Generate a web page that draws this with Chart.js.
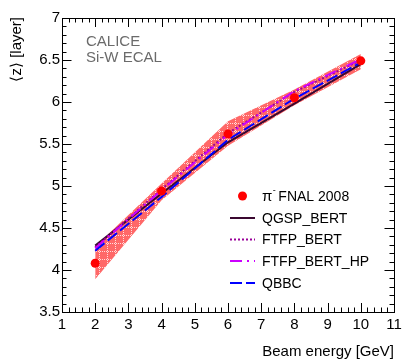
<!DOCTYPE html>
<html>
<head>
<meta charset="utf-8">
<script src="https://cdn.jsdelivr.net/npm/chart.js@4/dist/chart.umd.min.js"></script>
<style>
html,body{margin:0;padding:0;background:#fff;}
#wrap{width:415px;height:363px;position:relative;}
</style>
</head>
<body>
<div id="wrap"><canvas id="c" width="415" height="363"></canvas></div>
<script>
// ---- data ----
const energies = [2, 4, 6, 8, 10];
const dataValues = [4.08, 4.94, 5.62, 6.05, 6.49];
const bandUpper = [4.28, 5.03, 5.77, 6.15, 6.57];
const bandLower = [3.89, 4.83, 5.48, 5.96, 6.39];
const qgspBert = [4.29, 4.91, 5.52, 5.98, 6.45];
const ftfpBert = [4.27, 4.96, 5.63, 6.12, 6.50];
const ftfpBertHP = [4.26, 4.95, 5.61, 6.13, 6.51];
const qbbc = [4.23, 4.87, 5.55, 6.04, 6.47];
const xTicks = [1,2,3,4,5,6,7,8,9,10,11];
const yTicks = [3.5,4,4.5,5,5.5,6,6.5,7];
const legendLabels = ['FNAL 2008','QGSP_BERT','FTFP_BERT','FTFP_BERT_HP','QBBC'];

const FONT = "'Liberation Sans', Arial, Helvetica, sans-serif";
Chart.defaults.font.family = FONT;

function pts(ys){ return energies.map((e,i)=>({x:e,y:ys[i]})); }

// hatch pattern for systematic band
function makePattern(){
  const p = document.createElement('canvas');
  p.width = 8; p.height = 8;
  const g = p.getContext('2d');
  g.fillStyle = 'rgb(255,104,104)';
  g.fillRect(0,0,8,8);
  g.fillStyle = 'rgba(255,225,225,0.95)';
  for(let i=0;i<8;i+=2){ g.fillRect(3,i,1,1); g.fillRect(i,3,1,1); }
  return g.createPattern(p,'repeat');
}
const pattern = makePattern();

const styles = {
  qgsp: {color:'#3a0830', dash:[]},
  ftfp: {color:'#990099', dash:[2,2]},
  hp:   {color:'#cc00ff', dash:[12,5,2,5]},
  qbbc: {color:'#0000ff', dash:[12,4]}
};

const decor = {
  id:'decor',
  afterDatasetsDraw(chart){
    const ctx = chart.ctx, xs = chart.scales.x, ys = chart.scales.y;
    const L = xs.left, R = xs.right, T = ys.top, B = ys.bottom;
    ctx.save();
    ctx.strokeStyle = '#000'; ctx.lineWidth = 1;
    ctx.strokeRect(Math.round(L)+0.5, Math.round(T)+0.5, Math.round(R-L), Math.round(B-T));
    ctx.beginPath();
    // x ticks
    for(let i=0;i<=50;i++){
      const v = 1 + i*0.2;
      const isMajor = i%5===0;
      const len = isMajor ? 9 : 4.5;
      const px = Math.round(xs.getPixelForValue(v))+0.5;
      ctx.moveTo(px,B); ctx.lineTo(px,B-len);
      ctx.moveTo(px,T); ctx.lineTo(px,T+len);
    }
    // y ticks
    for(let i=0;i<=35;i++){
      const v = 3.5 + i*0.1;
      const isMajor = i%5===0;
      const len = isMajor ? 9.5 : 4.5;
      const py = Math.round(ys.getPixelForValue(v))+0.5;
      ctx.moveTo(L,py); ctx.lineTo(L+len,py);
      ctx.moveTo(R,py); ctx.lineTo(R-len,py);
    }
    ctx.stroke();

    // CALICE label
    ctx.fillStyle = '#6b6b6b';
    ctx.font = '15px ' + FONT;
    ctx.textAlign = 'left'; ctx.textBaseline = 'alphabetic';
    ctx.fillText('CALICE', 86, 46);
    ctx.fillText('Si-W ECAL', 86, 62);

    // axis titles
    ctx.fillStyle = '#000';
    ctx.font = '15px ' + FONT;
    ctx.textAlign = 'right'; ctx.textBaseline = 'alphabetic';
    ctx.fillText('Beam energy [GeV]', 394, 356);
    ctx.save();
    ctx.translate(21, 17);
    ctx.rotate(-Math.PI/2);
    ctx.textAlign = 'right';
    ctx.fillText('\u27E8z\u27E9 [layer]', 0, 0);
    ctx.restore();

    // legend
    const rows = [196, 218, 239.5, 261, 283];
    const lx0 = 230, lx1 = 255, tx = 262;
    ctx.font = '14px ' + FONT;
    ctx.textAlign = 'left'; ctx.textBaseline = 'middle';
    ctx.fillStyle = '#ff0000';
    ctx.beginPath(); ctx.arc(242.5, rows[0], 4.5, 0, Math.PI*2); ctx.fill();
    ctx.fillStyle = '#000';
    ctx.font = '15px ' + FONT;
    ctx.fillText('\u03C0', tx, rows[0]+1);
    const pw = ctx.measureText('\u03C0').width;
    ctx.font = '9px ' + FONT;
    ctx.fillText('-', tx+pw+0.5, rows[0]-5);
    ctx.font = '14px ' + FONT;
    ctx.fillText(legendLabels[0], tx+pw+6, rows[0]+1);
    const keys = ['qgsp','ftfp','hp','qbbc'];
    keys.forEach((k,i)=>{
      const y = rows[i+1];
      ctx.strokeStyle = styles[k].color; ctx.lineWidth = 2;
      ctx.setLineDash(styles[k].dash);
      ctx.beginPath(); ctx.moveTo(lx0,y); ctx.lineTo(lx1,y); ctx.stroke();
      ctx.setLineDash([]);
      ctx.fillStyle = '#000';
      ctx.fillText(legendLabels[i+1], tx, y+1);
    });
    ctx.restore();
  }
};

function lineDS(label, ys, st, order){
  return {label, data: pts(ys), borderColor: st.color, borderDash: st.dash,
    borderWidth: 2, pointRadius: 0, fill: false, tension: 0, order};
}

new Chart(document.getElementById('c'), {
  type: 'line',
  data: {
    datasets: [
      {label:'band upper', data: pts(bandUpper), borderWidth:0, pointRadius:0,
       backgroundColor: pattern, fill: '+1', order: 10},
      {label:'band lower', data: pts(bandLower), borderWidth:0, pointRadius:0, fill:false, order: 11},
      lineDS('QGSP_BERT', qgspBert, styles.qgsp, 5),
      lineDS('FTFP_BERT', ftfpBert, styles.ftfp, 4),
      lineDS('FTFP_BERT_HP', ftfpBertHP, styles.hp, 3),
      lineDS('QBBC', qbbc, styles.qbbc, 2),
      {label:'FNAL 2008', data: pts(dataValues), showLine:false, pointRadius:4.5,
       pointBackgroundColor:'#ff0000', pointBorderColor:'#ff0000', pointBorderWidth:0, order:1}
    ]
  },
  options: {
    responsive: false,
    animation: false,
    layout: {padding: {left:0, top:18, right:21, bottom:0}},
    plugins: {legend:{display:false}, tooltip:{enabled:false}},
    scales: {
      x: {
        type:'linear', min:1, max:11,
        afterBuildTicks(s){ s.ticks = xTicks.map(v=>({value:v})); },
        afterFit(s){ s.height = 51; },
        grid:{display:false, drawTicks:false}, border:{display:false},
        ticks:{color:'#000', font:{size:15}, padding:4, maxRotation:0, autoSkip:false,
               callback: v => String(v)}
      },
      y: {
        type:'linear', min:3.5, max:7,
        afterBuildTicks(s){ s.ticks = yTicks.map(v=>({value:v})); },
        afterFit(s){ s.width = 62; },
        grid:{display:false, drawTicks:false}, border:{display:false},
        ticks:{color:'#000', font:{size:15}, padding:2, autoSkip:false,
               callback: v => String(Math.round(v*10)/10)}
      }
    }
  },
  plugins: [decor]
});
</script>
</body>
</html>
